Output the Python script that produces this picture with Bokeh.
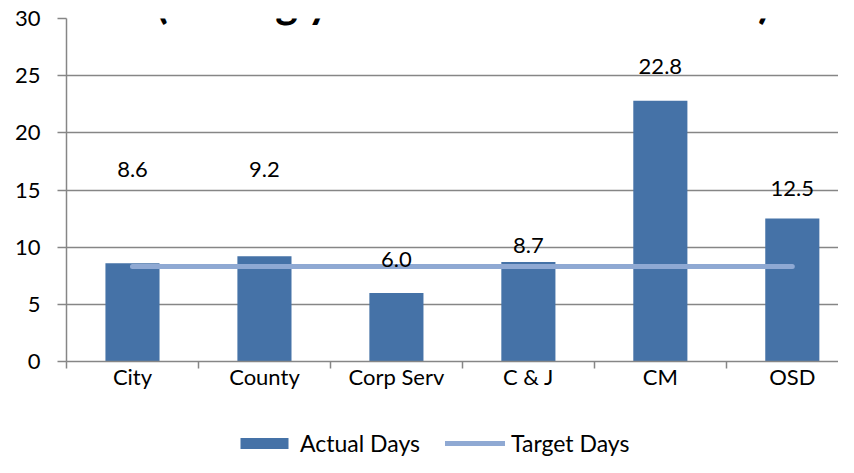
from bokeh.plotting import figure
from bokeh.models import (ColumnDataSource, Range1d, FixedTicker, Legend, LegendItem, Label)
from bokeh.layouts import column
from bokeh.core.properties import value
from bokeh.embed import file_html
from bokeh.resources import INLINE

categories = ["City", "County", "Corp Serv", "C & J", "CM", "OSD"]
actual_days = [8.6, 9.2, 6.0, 8.7, 22.8, 12.5]
target_days = [8.3, 8.3, 8.3, 8.3, 8.3, 8.3]
value_labels = ["8.6", "9.2", "6.0", "8.7", "22.8", "12.5"]
y_ticks = [0, 5, 10, 15, 20, 25, 30]
title_text = "(Rolling year to December 2013)"
series_names = ["Actual Days", "Target Days"]

# label offsets above bar tops (pixels, style only)
label_offsets = [-94, -87, -33, -17, -34, -30]

FONT = "Lato"
GRAY = "#868686"
BAR = "#4572a7"
LINE = "#8fa9d3"

xs = list(range(len(categories)))
src = ColumnDataSource(dict(x=xs, actual=actual_days, target=target_days,
                            lab=value_labels, off=label_offsets))

p = figure(width=838, height=400, output_backend="svg", toolbar_location=None,
           x_range=Range1d(-0.5, 5.35), y_range=Range1d(0, 30),
           min_border_left=66, min_border_right=0, min_border_top=18,
           min_border_bottom=39)
p.outline_line_color = None
p.background_fill_color = "white"
p.border_fill_color = "white"

# grid
p.xgrid.grid_line_color = None
p.ygrid.grid_line_color = GRAY
p.ygrid.grid_line_width = 1.5
p.ygrid.ticker = FixedTicker(ticks=y_ticks)

# y axis
p.yaxis.ticker = FixedTicker(ticks=y_ticks)
p.yaxis.axis_line_color = GRAY
p.yaxis.axis_line_width = 1.5
p.yaxis.major_tick_line_color = GRAY
p.yaxis.major_tick_line_width = 1.5
p.yaxis.major_tick_out = 9
p.yaxis.major_tick_in = 0
p.yaxis.minor_tick_line_color = None
p.yaxis.major_label_standoff = 17
p.yaxis.major_label_text_font = FONT
p.yaxis.major_label_text_font_size = "22px"
p.yaxis.major_label_text_color = "black"

# x axis
bounds = [i - 0.5 for i in range(len(categories) + 1)]
p.xaxis.ticker = FixedTicker(ticks=xs, minor_ticks=bounds)
p.xaxis.major_label_overrides = {i: c for i, c in enumerate(categories)}
p.xaxis.axis_line_color = GRAY
p.xaxis.axis_line_width = 1.5
p.xaxis.major_tick_line_color = None
p.xaxis.major_tick_out = 0
p.xaxis.major_tick_in = 0
p.xaxis.minor_tick_line_color = GRAY
p.xaxis.minor_tick_line_width = 1.5
p.xaxis.minor_tick_out = 7
p.xaxis.minor_tick_in = 0
p.xaxis.major_label_standoff = -6
p.xaxis.major_label_text_font = FONT
p.xaxis.major_label_text_font_size = "22px"
p.xaxis.major_label_text_color = "black"

p.vbar(x="x", top="actual", width=0.41, source=src, fill_color=BAR, line_color=None)
p.line(x="x", y="target", source=src, line_color=LINE, line_width=5, line_cap="round")

p.text(x="x", y="actual", text="lab", source=src, y_offset="off",
       text_font=value(FONT), text_font_size="22px", text_color="black",
       text_align="center", text_baseline="middle")

title = Label(x=2.515, y=31.45, text=title_text, text_font=FONT,
              text_font_size="43px", text_font_style="bold",
              text_align="center", text_baseline="alphabetic", text_color="black")
p.add_layout(title)

# legend strip below the chart (same series, ranges kept away from the data)
p2 = figure(width=838, height=57, output_backend="svg", toolbar_location=None,
            x_axis_type=None, y_axis_type=None, min_border=0,
            x_range=Range1d(100, 101), y_range=Range1d(100, 101))
p2.outline_line_color = None
p2.grid.grid_line_color = None
r_bar = p2.vbar(x="x", top="actual", width=0.41, source=src, fill_color=BAR,
                line_color=None)
r_line = p2.line(x="x", y="target", source=src, line_color=LINE, line_width=5,
                 line_cap="round")
legend = Legend(items=[LegendItem(label=series_names[0], renderers=[r_bar]),
                       LegendItem(label=series_names[1], renderers=[r_line])],
                orientation="horizontal", location=(168, 0),
                glyph_width=60, glyph_height=14, label_standoff=6, spacing=25,
                label_text_font=FONT, label_text_font_size="23px",
                label_text_color="black",
                padding=0, margin=0, border_line_color=None,
                background_fill_alpha=0)
p2.add_layout(legend)

layout = column(p, p2, spacing=0)
open("out.html", "w").write(file_html(layout, INLINE))
